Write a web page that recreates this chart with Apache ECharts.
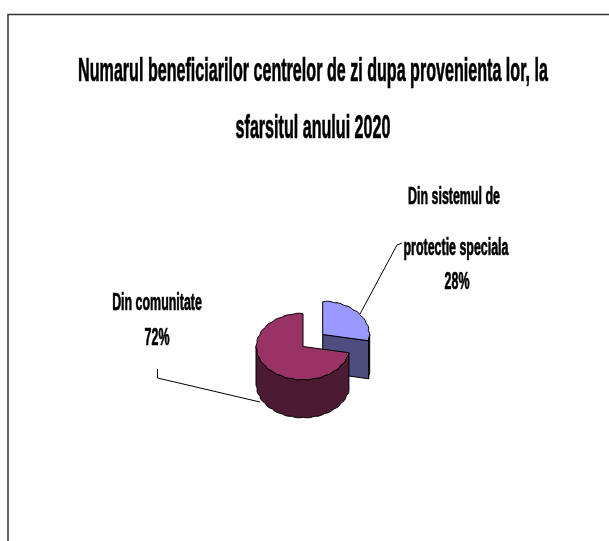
<!DOCTYPE html>
<html><head><meta charset="utf-8">
<style>html,body{margin:0;padding:0;background:#fff}#c{width:609px;height:541px}</style>
<script src="https://cdn.jsdelivr.net/npm/echarts@6/dist/echarts.min.js"></script>
</head><body><div id="c"></div>
<script>
const titleLines = ['Numarul beneficiarilor centrelor de zi dupa provenienta lor, la', 'sfarsitul anului 2020'];
const categories = ['Din sistemul de protectie speciala', 'Din comunitate'];
const values = [28, 72];
const labelLines = [['Din sistemul de', 'protectie speciala', '28%'], ['Din comunitate', '72%']];
const topColors = ['#9999ff', '#993366'];
const wallColors = ['#4d4d80', '#4d1a33'];

const chart = echarts.init(document.getElementById('c'), null, {renderer: 'canvas'});
const RX = 47, RY = 33.5, DEPTH = 38;
const centers = [[322.7, 334.5], [303, 346.5]];
const total = values.reduce((a, b) => a + b, 0);
const STEP = 3 * Math.PI / 180;
const SCALLOPS = 13, SCALLOP_DEPTH = 0.022;
function pt(c, a, dy) {
  const r = 1 - SCALLOP_DEPTH + SCALLOP_DEPTH * Math.abs(Math.sin(a * SCALLOPS));
  return [c[0] + RX * r * Math.sin(a), c[1] - RY * r * Math.cos(a) + (dy || 0)];
}
function arc(c, a0, a1, dy) {
  const n = Math.max(1, Math.round((a1 - a0) / STEP)), out = [];
  for (let i = 0; i <= n; i++) out.push(pt(c, a0 + (a1 - a0) * i / n, dy));
  return out;
}
const stroke = {stroke: '#000', lineWidth: 1, lineJoin: 'round'};
function sliceAngles(i) {
  let s = 0; for (let k = 0; k < i; k++) s += values[k];
  return [s / total * 2 * Math.PI, (s + values[i]) / total * 2 * Math.PI];
}
function renderSlice(params, api) {
  const i = api.value(0), c = centers[i], [a0, a1] = sliceAngles(i), kids = [];
  const vis0 = Math.max(a0, Math.PI / 2), vis1 = Math.min(a1, 3 * Math.PI / 2);
  if (vis1 > vis0) {
    const upper = arc(c, vis0, vis1, 0), lower = arc(c, vis0, vis1, DEPTH).reverse();
    kids.push({type: 'polygon', shape: {points: upper.concat(lower)}, style: {fill: wallColors[i], ...stroke}});
  }
  if (i === 0) {
    const e = pt(c, a1, 0);
    kids.push({type: 'polygon', shape: {points: [c, e, [e[0], e[1] + DEPTH], [c[0], c[1] + DEPTH]]}, style: {fill: wallColors[i], ...stroke}});
  }
  kids.push({type: 'polygon', shape: {points: [c].concat(arc(c, a0, a1, 0))}, style: {fill: topColors[i], ...stroke}});
  return {type: 'group', children: kids};
}
function text(str, cx, cy, size, sx) {
  return {type: 'text', x: cx, y: cy, scaleX: sx, silent: true,
    style: {text: str, fontFamily: 'Liberation Sans', fontWeight: 'bold', fontSize: size, fill: '#000', stroke: '#000', lineWidth: 0.7, align: 'center', verticalAlign: 'middle'}};
}
const graphics = [
  {type: 'polyline', shape: {points: [[8, 541], [8, 14.5], [609, 14.5]]}, style: {stroke: '#333', lineWidth: 1.5, fill: null}, silent: true},
  text(titleLines[0], 313, 72, 33, 0.488),
  text(titleLines[1], 313, 129, 33, 0.488),
  {type: 'polyline', shape: {points: [[360, 314], [397, 245], [402, 243]]}, style: {stroke: '#000', lineWidth: 1, fill: null}, silent: true},
  {type: 'polyline', shape: {points: [[157.5, 369], [157.5, 378], [260, 402]]}, style: {stroke: '#000', lineWidth: 1, fill: null}, silent: true},
  text(labelLines[0][0], 454, 198, 23, 0.54),
  text(labelLines[0][1], 456, 249, 23, 0.54),
  text(labelLines[0][2], 457, 283, 23, 0.54),
  text(labelLines[1][0], 157, 304, 23, 0.54),
  text(labelLines[1][1], 157, 339, 23, 0.54)
];
chart.setOption({
  animation: false,
  backgroundColor: '#ffffff',
  tooltip: {show: false},
  graphic: graphics,
  series: [{
    type: 'custom', coordinateSystem: 'none', silent: true,
    renderItem: renderSlice,
    data: values.map((v, i) => ({name: categories[i], value: [i, v]}))
  }]
});
</script></body></html>
